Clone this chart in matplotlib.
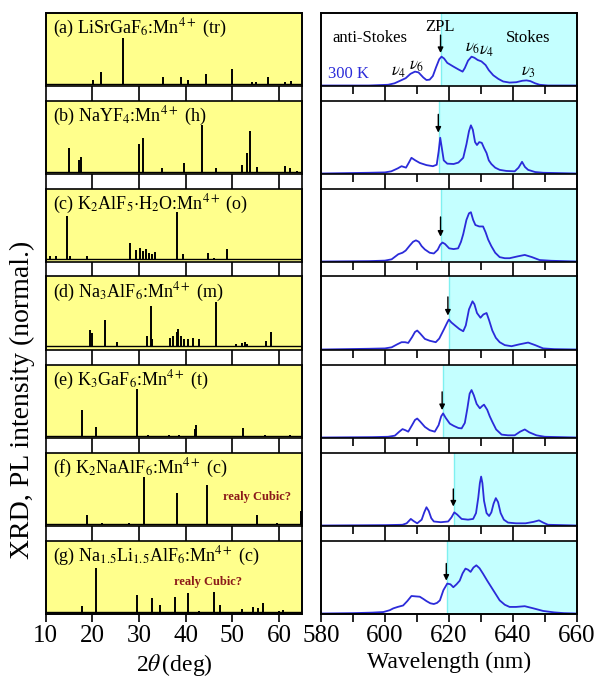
"""Stacked XRD patterns (left) and 300 K PL spectra (right) for seven Mn4+ fluorides."""

import matplotlib

matplotlib.use("Agg")
import matplotlib.pyplot as plt
from matplotlib.patches import Rectangle

plt.rcParams["font.family"] = ["Liberation Serif", "DejaVu Serif"]
plt.rcParams["mathtext.fontset"] = "stix"

YELLOW = "#FFFF8C"
CYAN = "#C4FFFF"
BLUE = "#2B2BD9"
DARKRED = "#8B1A1A"

# ---- sample labels --------------------------------------------------------
labels = [
    r"(a) LiSrGaF$_6$:Mn$^{4+}$ (tr)",
    r"(b) NaYF$_4$:Mn$^{4+}$ (h)",
    r"(c) K$_2$AlF$_5$$\cdot$H$_2$O:Mn$^{4+}$ (o)",
    r"(d) Na$_3$AlF$_6$:Mn$^{4+}$ (m)",
    r"(e) K$_3$GaF$_6$:Mn$^{4+}$ (t)",
    r"(f) K$_2$NaAlF$_6$:Mn$^{4+}$ (c)",
    r"(g) Na$_{1.5}$Li$_{1.5}$AlF$_6$:Mn$^{4+}$ (c)",
]

# ---- XRD: peak positions (2theta, deg) and heights (normalised) -----------
xrd_a_pos = [20.1, 21.9, 26.6, 35.1, 39.1, 40.6, 44.3, 50.0, 54.3, 55.1, 57.6, 61.3, 62.5]
xrd_a_h = [0.075, 0.19, 0.645, 0.11, 0.11, 0.08, 0.16, 0.225, 0.045, 0.045, 0.11, 0.045, 0.06]

xrd_b_pos = [15.1, 17.2, 17.5, 25.0, 30.1, 30.9, 35.0, 39.7, 43.6, 46.6, 52.0, 53.2, 53.8, 55.2, 61.3, 62.3, 63.9]
xrd_b_h = [0.345, 0.18, 0.22, 0.02, 0.40, 0.49, 0.07, 0.15, 0.665, 0.08, 0.12, 0.275, 0.58, 0.09, 0.10, 0.08, 0.04]

xrd_c_pos = [11.0, 12.3, 14.65, 15.2, 18.9, 28.1, 29.4, 30.2, 30.8, 31.5, 32.2, 32.8, 33.4, 38.2, 39.4, 44.7, 46.0, 48.9, 52.3]
xrd_c_h = [0.07, 0.08, 0.63, 0.07, 0.07, 0.25, 0.16, 0.19, 0.15, 0.17, 0.12, 0.10, 0.13, 0.675, 0.10, 0.12, 0.05, 0.165, 0.04]

xrd_d_pos = [19.5, 19.9, 22.8, 25.4, 31.8, 32.5, 32.7, 36.6, 37.3, 38.1, 38.4, 39.0, 39.6, 40.5, 41.6, 42.9,
             46.5, 50.9, 52.0, 52.7, 53.2, 57.3, 58.4]
xrd_d_h = [0.27, 0.22, 0.41, 0.10, 0.19, 0.59, 0.15, 0.16, 0.19, 0.245, 0.275, 0.19, 0.15, 0.14, 0.16, 0.14,
           0.65, 0.08, 0.09, 0.10, 0.08, 0.11, 0.24]

xrd_e_pos = [17.9, 20.8, 29.5, 32.0, 36.5, 38.5, 42.0, 42.2, 52.3, 57.0, 62.3]
xrd_e_h = [0.375, 0.145, 0.67, 0.03, 0.03, 0.035, 0.12, 0.17, 0.13, 0.03, 0.04]

xrd_f_pos = [18.8, 22.0, 27.9, 31.1, 38.2, 44.5, 55.4, 59.6, 64.8]
xrd_f_h = [0.14, 0.03, 0.03, 0.66, 0.44, 0.55, 0.14, 0.03, 0.195]

xrd_g_pos = [17.9, 20.7, 29.5, 32.9, 34.6, 37.7, 40.6, 42.9, 46.1, 47.3, 52.1, 54.4, 55.5, 56.6, 60.0, 60.9]
xrd_g_h = [0.10, 0.63, 0.26, 0.21, 0.12, 0.22, 0.28, 0.04, 0.30, 0.12, 0.06, 0.09, 0.07, 0.15, 0.04, 0.05]

xrd_base = [0.025, 0.015, 0.03, 0.05, 0.02, 0.02, 0.025]

# ---- PL spectra: wavelength (nm) and intensity (normalised) ---------------
pl_a_wl = [580, 595, 601, 603, 605, 606.5, 608, 609.4, 610.5, 612, 613, 614, 615, 616, 617, 617.7, 618.5,
           619.5, 621.4, 623, 624.3, 625, 626, 627.1, 628, 629, 630.2, 631.5, 632.5, 633.9, 635.5, 637,
           639, 641.1, 643, 644.3, 645.5, 647, 648.4, 651, 660]
pl_a_int = [0.0, 0.0, 0.01, 0.03, 0.07, 0.10, 0.16, 0.19, 0.18, 0.11, 0.075, 0.08, 0.13, 0.25, 0.36, 0.395, 0.37,
            0.31, 0.26, 0.22, 0.19, 0.24, 0.34, 0.395, 0.38, 0.35, 0.33, 0.28, 0.21, 0.14, 0.09, 0.055,
            0.04, 0.045, 0.065, 0.07, 0.06, 0.03, 0.01, 0.0, 0.0]

pl_b_wl = [580, 595, 600, 602, 604, 605.2, 606.6, 607.5, 608.3, 609.5, 610.9, 613, 615, 616.2, 616.8, 617.3,
           617.8, 618.4, 619.5, 621.5, 623, 624.5, 625.5, 626.3, 626.9, 627.5, 628.2, 628.8, 629.5, 630.3,
           631, 631.8, 632.5, 633.3, 634.5, 635.9, 638, 640.6, 641.8, 642.9, 643.8, 644.8, 647, 649.5, 660]
pl_b_int = [0.0, 0.01, 0.015, 0.03, 0.07, 0.10, 0.08, 0.15, 0.215, 0.18, 0.145, 0.115, 0.10, 0.12, 0.30, 0.49,
            0.35, 0.18, 0.135, 0.13, 0.15, 0.215, 0.40, 0.58, 0.66, 0.60, 0.43, 0.39, 0.43, 0.42,
            0.35, 0.28, 0.18, 0.13, 0.08, 0.05, 0.035, 0.03, 0.08, 0.16, 0.09, 0.05, 0.02, 0.01, 0.0]

pl_c_wl = [580, 595, 600, 602.1, 603.3, 604.2, 605.5, 606.5, 607.8, 608.8, 609.7, 610.6, 611.5, 612.5, 614,
           615.3, 616.5, 617.3, 618, 618.8, 620.1, 621.5, 622.9, 623.8, 624.5, 625.5, 626.3, 626.9, 627.6,
           628.3, 629.5, 630.7, 631.5, 632.3, 633.3, 634.5, 635.9, 637.5, 639, 641.5, 643.75, 646, 648.4,
           652, 660]
pl_c_int = [0.0, 0.005, 0.012, 0.03, 0.07, 0.10, 0.12, 0.15, 0.22, 0.27, 0.29, 0.27, 0.21, 0.165, 0.12,
            0.11, 0.16, 0.23, 0.26, 0.24, 0.18, 0.17, 0.18, 0.27, 0.375, 0.57, 0.66, 0.675, 0.57,
            0.50, 0.48, 0.48, 0.40, 0.30, 0.21, 0.12, 0.06, 0.045, 0.045, 0.07, 0.09, 0.06, 0.02,
            0.01, 0.0]

pl_d_wl = [580, 595, 600, 602.1, 603.8, 605.2, 606.3, 607.3, 608.5, 609.4, 610.1, 611, 612.5, 614, 615.9,
           617, 618.5, 619.5, 620, 620.8, 621.9, 623.3, 624.5, 625.3, 626.3, 627.4, 628, 628.8, 629.9,
           630.8, 631.8, 632.6, 633.6, 634.7, 635.9, 637.5, 639.6, 642, 644.8, 647, 649.5, 653, 660]
pl_d_int = [0.0, 0.01, 0.015, 0.03, 0.07, 0.10, 0.10, 0.09, 0.17, 0.24, 0.26, 0.22, 0.145, 0.12, 0.10,
            0.15, 0.28, 0.37, 0.41, 0.37, 0.33, 0.28, 0.25, 0.33, 0.55, 0.66, 0.62, 0.50, 0.435,
            0.48, 0.50, 0.40, 0.26, 0.16, 0.10, 0.06, 0.045, 0.07, 0.095, 0.06, 0.015, 0.005, 0.0]

pl_e_wl = [580, 596, 601, 603.1, 604.5, 605.5, 606.4, 607.3, 608.5, 609.4, 610.1, 611, 612.5, 614, 615.6,
           616.8, 617.6, 618.2, 619, 620.3, 621.5, 623, 624, 625, 625.8, 626.5, 627.1, 627.8, 628.7,
           629.7, 630.4, 631, 632, 632.8, 633.6, 634.8, 636.5, 638.5, 640.6, 642.3, 643.75, 645.2,
           647.4, 650, 660]
pl_e_int = [0.0, 0.005, 0.01, 0.025, 0.08, 0.115, 0.10, 0.08, 0.17, 0.24, 0.26, 0.22, 0.145, 0.10, 0.08,
            0.17, 0.29, 0.33, 0.27, 0.19, 0.16, 0.13, 0.125, 0.20, 0.40, 0.60, 0.65, 0.58, 0.46,
            0.40, 0.43, 0.45, 0.38, 0.29, 0.215, 0.11, 0.04, 0.03, 0.03, 0.08, 0.11, 0.07,
            0.03, 0.01, 0.0]

pl_f_wl = [580, 600, 605.5, 606.8, 608.1, 609, 610.1, 611.5, 612.3, 613, 613.7, 614.5, 615.3, 617.5, 619.8,
           620.8, 621.7, 622.6, 624, 626, 627.6, 628.5, 629.2, 629.7, 630.1, 630.5, 631, 631.8, 632.6,
           633.3, 634, 634.7, 635.4, 636.2, 637.2, 638.5, 641, 644, 646.5, 648.2, 649.5, 651, 660]
pl_f_int = [0.0, 0.005, 0.01, 0.03, 0.09, 0.06, 0.03, 0.08, 0.18, 0.25, 0.20, 0.10, 0.055, 0.045, 0.055,
            0.11, 0.18, 0.15, 0.09, 0.08, 0.09, 0.17, 0.38, 0.58, 0.67, 0.58, 0.34, 0.17, 0.13,
            0.18, 0.30, 0.375, 0.32, 0.17, 0.08, 0.04, 0.03, 0.03, 0.05, 0.07, 0.04, 0.01, 0.0]

pl_g_wl = [580, 590, 596, 599.5, 601.5, 602.6, 604, 605.7, 607, 608.3, 609.5, 610.9, 612, 613, 614.2,
           615.3, 616.3, 617.2, 618.3, 619.5, 620.5, 621.4, 622.4, 623.4, 624.3, 625.2, 626, 626.8,
           627.7, 628.6, 629.6, 630.7, 632, 633.3, 634.6, 635.9, 637.5, 639, 641, 643.75, 646.5, 649.5,
           653, 656, 660]
pl_g_int = [0.0, 0.005, 0.012, 0.02, 0.045, 0.07, 0.09, 0.11, 0.17, 0.24, 0.235, 0.23, 0.20, 0.17, 0.14,
            0.13, 0.145, 0.18, 0.32, 0.41, 0.40, 0.36, 0.40, 0.45, 0.55, 0.615, 0.60, 0.57,
            0.63, 0.66, 0.62, 0.545, 0.45, 0.36, 0.27, 0.18, 0.12, 0.09, 0.09, 0.10, 0.07, 0.035,
            0.015, 0.005, 0.0]

# ZPL position per sample (start of Stokes side) and its arrow span
zpl_nm = [617.7, 617.0, 617.7, 620.0, 618.2, 621.7, 619.5]
arrow_top = [0.69, 0.81, 0.61, 0.72, 0.625, 0.50, 0.685]
arrow_tip = [0.445, 0.56, 0.34, 0.465, 0.375, 0.26, 0.45]

xrd_sets = [(xrd_a_pos, xrd_a_h), (xrd_b_pos, xrd_b_h), (xrd_c_pos, xrd_c_h), (xrd_d_pos, xrd_d_h),
            (xrd_e_pos, xrd_e_h), (xrd_f_pos, xrd_f_h), (xrd_g_pos, xrd_g_h)]
pl_sets = [(pl_a_wl, pl_a_int), (pl_b_wl, pl_b_int), (pl_c_wl, pl_c_int), (pl_d_wl, pl_d_int),
           (pl_e_wl, pl_e_int), (pl_f_wl, pl_f_int), (pl_g_wl, pl_g_int)]

# ---- layout -----------------------------------------------------------------
W, H = 597, 681
fig = plt.figure(figsize=(W / 100, H / 100), dpi=100)

top_px, panel_px, gap_px = 12.5, 73.0, 15.0
left_x = (45.6, 302.3)
right_x = (321.0, 576.7)
gap_pt = gap_px * 72 / 100

n = len(labels)
for i in range(n):
    y_top = top_px + i * (panel_px + gap_px)
    bottom = 1 - (y_top + panel_px) / H
    height = panel_px / H
    last = i == n - 1

    ax_x = fig.add_axes([left_x[0] / W, bottom, (left_x[1] - left_x[0]) / W, height])
    ax_p = fig.add_axes([right_x[0] / W, bottom, (right_x[1] - right_x[0]) / W, height])

    # XRD pattern
    pos, hts = xrd_sets[i]
    ax_x.set_facecolor(YELLOW)
    ax_x.axhline(xrd_base[i], color="k", lw=1.0)
    ax_x.vlines(pos, xrd_base[i], hts, color="k", lw=1.4)
    ax_x.set_xlim(10, 65)
    ax_x.set_ylim(0, 1)
    ax_x.set_xticks([20, 30, 40, 50, 60] if not last else [10, 20, 30, 40, 50, 60])
    ax_x.text(0.03, 0.78, labels[i], transform=ax_x.transAxes, va="center", ha="left", fontsize=13)

    # PL spectrum
    wl, inten = pl_sets[i]
    ax_p.axvspan(zpl_nm[i], 660, color=CYAN, lw=0)
    ax_p.axvline(zpl_nm[i], color="#80F0F0", lw=1.0)
    ax_p.plot(wl, inten, color=BLUE, lw=1.3)
    ax_p.annotate("", xy=(zpl_nm[i] - 0.3, arrow_tip[i]), xytext=(zpl_nm[i] - 0.3, arrow_top[i]),
                  arrowprops=dict(arrowstyle="-|>", color="k", lw=1.0, mutation_scale=8,
                                  shrinkA=0, shrinkB=0))
    ax_p.set_xlim(580, 660)
    ax_p.set_ylim(0, 1)
    ax_p.set_xticks([580, 600, 620, 640, 660])
    ax_p.set_xticks([590, 610, 630, 650], minor=True)

    for ax in (ax_x, ax_p):
        ax.set_yticks([])
        for s in ax.spines.values():
            s.set_linewidth(1.2)
        if last:
            ax.tick_params(axis="x", which="major", direction="out", length=6, width=1.2,
                           labelsize=18, pad=2)
            ax.tick_params(axis="x", which="minor", direction="out", length=6, width=1.2)
        else:
            ax.tick_params(axis="x", which="major", direction="out", length=gap_pt, width=1.2,
                           labelbottom=False)
            ax.tick_params(axis="x", which="minor", direction="out", length=gap_pt / 2, width=1.2)

    if i == 0:
        ax_p.text(595.3, 0.65, "anti-Stokes", ha="center", va="center", fontsize=12)
        ax_p.text(644.7, 0.65, "Stokes", ha="center", va="center", fontsize=12)
        ax_p.text(617.2, 0.80, "ZPL", ha="center", va="center", fontsize=12)
        ax_p.text(582.2, 0.16, "300 K", ha="left", va="center", fontsize=12, color=BLUE)
        ax_p.text(604.4, 0.19, r"$\nu_4$", ha="center", va="center", fontsize=12)
        ax_p.text(610.0, 0.27, r"$\nu_6$", ha="center", va="center", fontsize=12)
        ax_p.text(627.4, 0.52, r"$\nu_6$", ha="center", va="center", fontsize=12)
        ax_p.text(631.8, 0.47, r"$\nu_4$", ha="center", va="center", fontsize=12)
        ax_p.text(645.0, 0.19, r"$\nu_3$", ha="center", va="center", fontsize=12)
    if labels[i].endswith("(c)"):
        ax_x.text(55.2 if i == 5 else 44.9, 0.39 if i == 5 else 0.43, "realy Cubic?", ha="center",
                  va="center", fontsize=9, fontweight="bold", color=DARKRED)

    if last:
        ax_x.set_xlabel(r"2$\theta\,$(deg)", fontsize=17, labelpad=4)
        ax_p.set_xlabel("Wavelength (nm)", fontsize=17, labelpad=4)

# frame lines closing the tick strips between stacked panels
col_top = 1 - top_px / H
col_bot = 1 - (top_px + n * panel_px + (n - 1) * gap_px) / H
for x0, x1 in (left_x, right_x):
    fig.add_artist(Rectangle((x0 / W, col_bot), (x1 - x0) / W, col_top - col_bot,
                             transform=fig.transFigure, fill=False, ec="k", lw=1.2))

fig.text(0.037, 0.413, "XRD, PL intensity (normal.)", rotation=90, ha="center", va="center", fontsize=20)

fig.savefig("out.png", dpi=100)
